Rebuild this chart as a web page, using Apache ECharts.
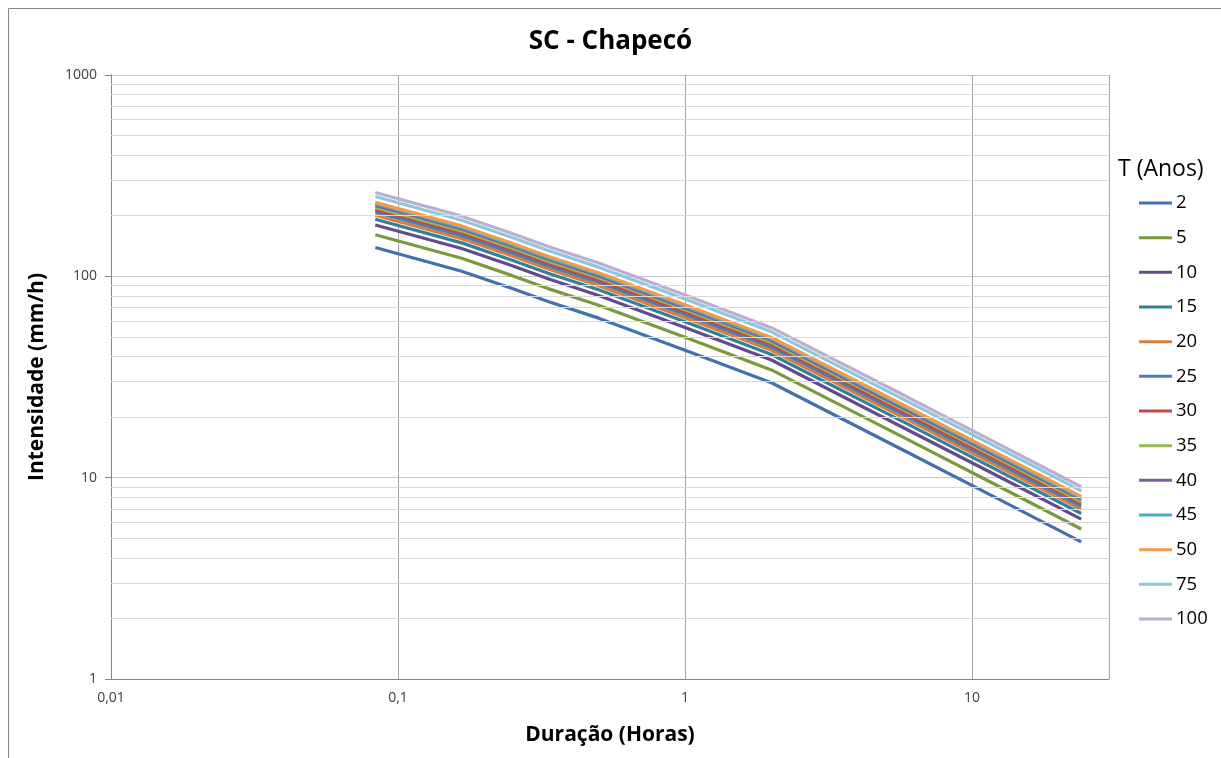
<!DOCTYPE html>
<html>
<head>
<meta charset="utf-8">
<title>SC - Chapecó</title>
<script src="https://cdn.jsdelivr.net/npm/echarts@6/dist/echarts.min.js"></script>
<style>
  html, body { margin: 0; padding: 0; background: #fff; }
  #chart { width: 1221px; height: 758px; }
</style>
</head>
<body>
<div id="chart"></div>
<script>
// durações em horas (5, 10, 15, 20, 30 min, 1, 2, 6, 12, 24 h)
const duracoes = [5 / 60, 10 / 60, 15 / 60, 20 / 60, 30 / 60, 1, 2, 6, 12, 24]

// intensidades (mm/h), por tempo de retorno
const t2 = [139, 106, 87, 75, 62, 43, 29.6, 13.3, 8.0, 4.8]
const t5 = [161, 123, 100.8, 86.9, 71.9, 49.8, 34.3, 15.4, 9.27, 5.56]
const t10 = [180, 137.4, 112.8, 97.2, 80.4, 55.7, 38.4, 17.2, 10.37, 6.22]
const t15 = [192, 146.6, 120.3, 103.7, 85.7, 59.5, 40.9, 18.4, 11.06, 6.64]
const t20 = [201, 153.6, 126.1, 108.7, 89.8, 62.3, 42.9, 19.3, 11.59, 6.96]
const t25 = [209, 159.2, 130.7, 112.7, 93.1, 64.6, 44.5, 20.0, 12.02, 7.21]
const t30 = [215, 164.0, 134.6, 116.0, 95.9, 66.5, 45.8, 20.6, 12.38, 7.43]
const t35 = [220, 168.0, 137.9, 118.9, 98.3, 68.2, 46.9, 21.1, 12.68, 7.61]
const t40 = [225, 171.7, 140.9, 121.5, 100.4, 69.7, 48.0, 21.5, 12.96, 7.78]
const t45 = [229.5, 175.0, 143.6, 123.8, 102.4, 71.0, 48.9, 22.0, 13.21, 7.92]
const t50 = [233, 178.0, 146.1, 125.9, 104.1, 72.2, 49.7, 22.3, 13.43, 8.06]
const t75 = [249, 190.0, 155.9, 134.4, 111.1, 77.1, 53.0, 23.8, 14.34, 8.60]
const t100 = [261, 199.0, 163.3, 140.8, 116.4, 80.7, 55.6, 25.0, 15.02, 9.01]

const nomes = ['2', '5', '10', '15', '20', '25', '30', '35', '40', '45', '50', '75', '100']
const valores = [t2, t5, t10, t15, t20, t25, t30, t35, t40, t45, t50, t75, t100]
const cores = ['#4272AD', '#7A9A3C', '#66498A', '#2F8299', '#D97F3E', '#4A7DBA', '#BE4B48',
  '#98B954', '#7D60A0', '#4AACC6', '#F59A4A', '#8CC8DC', '#BCAED3']

// linhas de grade secundárias do eixo y (log)
const gradeSecundaria = [2, 3, 4, 5, 6, 7, 8, 9, 20, 30, 40, 50, 60, 70, 80, 90,
  200, 300, 400, 500, 600, 700, 800, 900]

const fonte = '"Open Sans", "Noto Sans", sans-serif'

function fmtNum(v) {
  return String(Number(Number(v).toPrecision(6))).replace('.', ',')
}

const series = nomes.map((nome, i) => ({
  name: nome,
  type: 'line',
  symbol: 'none',
  z: 3,
  color: cores[i],
  lineStyle: {width: 3.2, color: cores[i]},
  data: duracoes.map((d, j) => [d, valores[i][j]]),
}))

// série vazia só para desenhar a grade secundária
series.unshift({
  name: 'grade',
  type: 'line',
  data: [],
  z: 1,
  silent: true,
  markLine: {
    silent: true,
    symbol: 'none',
    animation: false,
    label: {show: false},
    lineStyle: {color: '#d9d9d9', type: 'solid', width: 1},
    data: gradeSecundaria.map(v => ({yAxis: v})),
  },
})

const chart = echarts.init(document.getElementById('chart'), null, {renderer: 'canvas'})
chart.setOption({
  animation: false,
  backgroundColor: '#fff',
  textStyle: {fontFamily: fonte},
  title: [
    {
      text: 'SC - Chapecó',
      left: 'center',
      top: 24,
      textStyle: {fontSize: 26, fontWeight: 'bold', color: '#000', fontFamily: fonte},
    },
    {
      text: 'T (Anos)',
      left: 1113,
      top: 153,
      textStyle: {fontSize: 23, fontWeight: 'normal', color: '#000', fontFamily: fonte},
    },
  ],
  graphic: [
    {  // moldura externa
      type: 'rect',
      silent: true,
      shape: {x: 8.5, y: 8.5, width: 1300, height: 800},
      style: {fill: 'none', stroke: '#868686', lineWidth: 1},
    },
  ],
  legend: {
    data: nomes,
    orient: 'vertical',
    left: 1139,
    top: 193,
    padding: 0,
    icon: 'rect',
    itemWidth: 33,
    itemHeight: 3,
    itemGap: 14.67,
    textStyle: {
      fontSize: 18.5, lineHeight: 20, color: '#000', fontFamily: fonte,
      padding: [0, 0, 0, -1],
    },
  },
  grid: {
    left: 111,
    right: 112,
    top: 75,
    bottom: 79,
  },
  xAxis: {
    type: 'log',
    logBase: 10,
    min: 0.01,
    max: 30,
    name: 'Duração (Horas)',
    nameLocation: 'middle',
    nameGap: 46,
    nameTextStyle: {fontSize: 21, fontWeight: 'bold', color: '#000', fontFamily: fonte},
    axisLine: {lineStyle: {color: '#868686'}},
    axisTick: {show: false},
    axisLabel: {
      color: '#404040',
      fontSize: 14,
      margin: 12,
      showMaxLabel: false,
      formatter: fmtNum,
    },
    splitLine: {show: true, lineStyle: {color: '#a6a6a6', width: 1}},
  },
  yAxis: {
    type: 'log',
    logBase: 10,
    min: 1,
    max: 1000,
    name: 'Intensidade (mm/h)',
    nameLocation: 'middle',
    nameGap: 63,
    nameTextStyle: {fontSize: 21, fontWeight: 'bold', color: '#000', fontFamily: fonte},
    axisLine: {show: true, lineStyle: {color: '#868686'}},
    axisTick: {show: true, length: 6, lineStyle: {color: '#868686'}},
    axisLabel: {color: '#404040', fontSize: 14, margin: 14, formatter: fmtNum},
    splitLine: {show: true, lineStyle: {color: '#c8c8c8', width: 1}},
  },
  series: series,
})
window.addEventListener('resize', () => chart.resize())
</script>
</body>
</html>
